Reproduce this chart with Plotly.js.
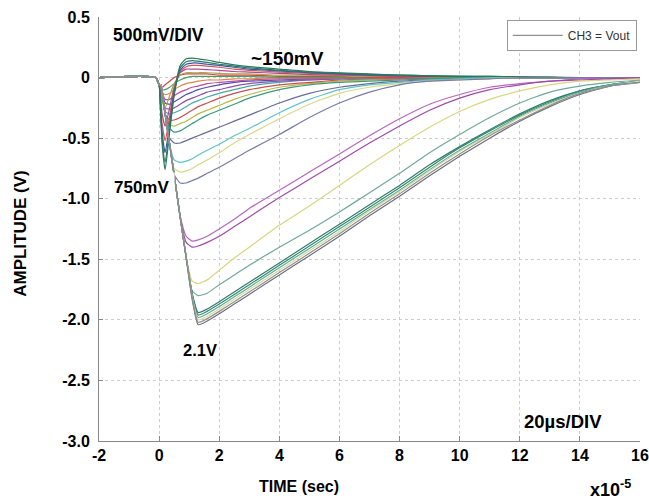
<!DOCTYPE html>
<html>
<head>
<meta charset="utf-8">
<script src="https://cdn.plot.ly/plotly-3.0.1.min.js"></script>
<style>html,body{margin:0;padding:0;background:#fff;}#chart{width:649px;height:499px;}</style>
</head>
<body>
<div id="chart"></div>
<script>
// time axis, in units of 1e-5 s
const timeE5 = [-2, -0.12, 0, 0.05, 0.1, 0.2, 0.35, 0.5, 0.7, 0.9, 1.1, 1.3, 1.6, 2, 2.5, 3, 4, 5, 6, 7, 8, 9, 10, 11, 12, 13, 14, 15, 16];

// large-amplitude bundle (~2.1 V)
const bundle1 = [0,0,-0.06,-0.07,-0.12,-0.3,-0.55,-0.8,-1.15,-1.49,-1.83,-2.04,-2.01,-1.95,-1.87,-1.79,-1.63,-1.47,-1.31,-1.14,-0.98,-0.81,-0.65,-0.50,-0.36,-0.24,-0.14,-0.07,-0.04];
const bundle2 = [0,0,-0.06,-0.07,-0.12,-0.3,-0.55,-0.8,-1.15,-1.48,-1.82,-2.02,-1.99,-1.93,-1.85,-1.77,-1.61,-1.45,-1.29,-1.12,-0.96,-0.79,-0.63,-0.48,-0.35,-0.23,-0.13,-0.07,-0.04];
const bundle3 = [0,0,-0.06,-0.06,-0.12,-0.3,-0.55,-0.8,-1.15,-1.48,-1.81,-2.00,-1.97,-1.91,-1.83,-1.75,-1.59,-1.43,-1.27,-1.10,-0.94,-0.77,-0.61,-0.47,-0.33,-0.22,-0.13,-0.07,-0.03];
const bundle4 = [0,0,-0.06,-0.06,-0.12,-0.3,-0.55,-0.8,-1.15,-1.48,-1.80,-1.98,-1.95,-1.89,-1.81,-1.73,-1.57,-1.41,-1.25,-1.09,-0.93,-0.76,-0.60,-0.46,-0.32,-0.21,-0.12,-0.06,-0.03];
const bundle5 = [0,0,-0.06,-0.06,-0.12,-0.3,-0.55,-0.8,-1.15,-1.48,-1.79,-1.96,-1.93,-1.87,-1.79,-1.71,-1.55,-1.39,-1.23,-1.07,-0.91,-0.74,-0.58,-0.44,-0.31,-0.20,-0.11,-0.06,-0.03];
const bundle6 = [0,0,-0.06,-0.06,-0.12,-0.3,-0.55,-0.8,-1.15,-1.48,-1.78,-1.94,-1.91,-1.85,-1.77,-1.69,-1.53,-1.37,-1.21,-1.05,-0.89,-0.72,-0.57,-0.43,-0.30,-0.19,-0.11,-0.06,-0.03];

// intermediate large curves
const teal180 = [0,0,-0.06,-0.06,-0.12,-0.3,-0.55,-0.8,-1.15,-1.48,-1.76,-1.80,-1.78,-1.71,-1.63,-1.55,-1.40,-1.26,-1.11,-0.95,-0.79,-0.62,-0.47,-0.33,-0.21,-0.12,-0.07,-0.04,-0.02];
const yellow170 = [0,0,-0.06,-0.06,-0.12,-0.3,-0.55,-0.8,-1.15,-1.48,-1.68,-1.70,-1.67,-1.59,-1.49,-1.40,-1.22,-1.06,-0.89,-0.72,-0.56,-0.41,-0.28,-0.18,-0.11,-0.06,-0.03,-0.02,-0.01];
const purple140 = [0,0,-0.06,-0.06,-0.12,-0.3,-0.55,-0.8,-1.15,-1.36,-1.40,-1.39,-1.36,-1.31,-1.23,-1.15,-0.99,-0.84,-0.69,-0.54,-0.40,-0.27,-0.17,-0.10,-0.06,-0.03,-0.02,-0.01,0];
const purple135 = [0,0,-0.06,-0.06,-0.12,-0.3,-0.55,-0.8,-1.14,-1.31,-1.35,-1.34,-1.31,-1.25,-1.17,-1.08,-0.93,-0.78,-0.63,-0.48,-0.34,-0.22,-0.14,-0.08,-0.05,-0.03,-0.01,-0.01,0];

// medium curves
const slate088 = [0,0,-0.06,-0.06,-0.12,-0.3,-0.55,-0.8,-0.87,-0.87,-0.85,-0.83,-0.79,-0.74,-0.67,-0.60,-0.47,-0.33,-0.21,-0.12,-0.06,-0.03,-0.02,-0.01,0,0,0,0,0];
const yellow078 = [0,0,-0.06,-0.06,-0.12,-0.3,-0.55,-0.75,-0.78,-0.77,-0.75,-0.72,-0.68,-0.62,-0.54,-0.47,-0.34,-0.22,-0.13,-0.08,-0.05,-0.03,-0.02,-0.01,0,0,0,0,0];
const cyan070 = [0,0,-0.06,-0.06,-0.12,-0.3,-0.55,-0.68,-0.70,-0.69,-0.67,-0.64,-0.60,-0.55,-0.48,-0.42,-0.29,-0.18,-0.10,-0.06,-0.04,-0.02,-0.01,0,0,0,0,0,0];
const slate054 = [0,0,-0.06,-0.06,-0.12,-0.3,-0.50,-0.54,-0.54,-0.52,-0.50,-0.48,-0.45,-0.41,-0.36,-0.31,-0.21,-0.13,-0.08,-0.05,-0.03,-0.02,-0.01,0,0,0,0,0,0];
const green045 = [0,0,-0.06,-0.06,-0.12,-0.3,-0.42,-0.45,-0.44,-0.41,-0.38,-0.35,-0.31,-0.27,-0.22,-0.17,-0.10,-0.06,-0.04,-0.03,-0.02,-0.01,0,0,0,0,0,0,0];

// small-dip curves
const small1 = [0,0,-0.06,-0.06,-0.12,-0.3,-0.39,-0.40,-0.38,-0.36,-0.33,-0.30,-0.27,-0.23,-0.18,-0.14,-0.08,-0.05,-0.03,-0.02,-0.01,-0.01,0,0,0,0,0,0,0];
const small2 = [0,0,-0.06,-0.06,-0.12,-0.3,-0.35,-0.35,-0.33,-0.30,-0.27,-0.24,-0.21,-0.17,-0.13,-0.10,-0.06,-0.04,-0.02,-0.01,-0.01,0,0,0,0,0,0,0,0];
const small3 = [0,0,-0.06,-0.06,-0.12,-0.28,-0.30,-0.29,-0.27,-0.24,-0.21,-0.19,-0.16,-0.13,-0.10,-0.07,-0.04,-0.02,-0.01,-0.01,0,0,0,0,0,0,0,0,0];
const small4 = [0,0,-0.06,-0.06,-0.12,-0.25,-0.26,-0.25,-0.22,-0.19,-0.17,-0.15,-0.12,-0.10,-0.07,-0.05,-0.03,-0.02,-0.01,0,0,0,0,0,0,0,0,0,0];
const small5 = [0,0,-0.06,-0.06,-0.12,-0.21,-0.22,-0.20,-0.17,-0.14,-0.12,-0.10,-0.08,-0.06,-0.04,-0.03,-0.02,-0.01,0,0,0,0,0,0,0,0,0,0,0];
const small6 = [0,0,-0.06,-0.06,-0.12,-0.18,-0.18,-0.15,-0.12,-0.10,-0.08,-0.07,-0.05,-0.04,-0.03,-0.02,-0.01,-0.01,0,0,0,0,0,0,0,0,0,0,0];
const small7 = [0,0,-0.06,-0.06,-0.12,-0.14,-0.13,-0.10,-0.07,-0.05,-0.04,-0.03,-0.02,-0.02,-0.01,-0.01,0,0,0,0,0,0,0,0,0,0,0,0,0];
const small8 = [0,0,-0.06,-0.06,-0.10,-0.10,-0.08,-0.05,-0.02,0,0.01,0.01,0.01,0.01,0.01,0.01,0,0,0,0,0,0,0,0,0,0,0,0,0];
const small9 = [0,0,-0.06,-0.06,-0.08,-0.06,-0.03,0,0.02,0.03,0.03,0.03,0.03,0.02,0.02,0.02,0.01,0.01,0.01,0,0,0,0,0,0,0,0,0,0];

// overshoot curves (spike to ~750 mV, overshoot up to ~150 mV)
const over1 = [0,0,-0.06,-0.10,-0.20,-0.25,-0.15,-0.05,0.02,0.04,0.04,0.04,0.04,0.035,0.03,0.03,0.02,0.02,0.015,0.01,0.01,0.005,0,0,0,0,0,0,0];
const over2 = [0,0,-0.06,-0.15,-0.30,-0.40,-0.25,-0.08,0.04,0.07,0.07,0.07,0.065,0.06,0.05,0.045,0.035,0.025,0.02,0.015,0.01,0.01,0.005,0,0,0,0,0,0];
const over3 = [0,0,-0.06,-0.20,-0.38,-0.52,-0.32,-0.10,0.05,0.09,0.10,0.10,0.095,0.085,0.07,0.06,0.045,0.035,0.025,0.02,0.015,0.01,0.005,0,0,0,0,0,0];
const over4 = [0,0,-0.06,-0.25,-0.45,-0.62,-0.38,-0.12,0.06,0.11,0.12,0.12,0.11,0.10,0.085,0.07,0.055,0.04,0.03,0.02,0.015,0.01,0.01,0.005,0,0,0,0,0];
const over5 = [0,0,-0.06,-0.28,-0.50,-0.70,-0.42,-0.13,0.08,0.13,0.14,0.135,0.125,0.11,0.095,0.08,0.06,0.045,0.035,0.025,0.02,0.015,0.01,0.01,0.005,0,0,0,0];
const over6 = [0,0,-0.06,-0.30,-0.55,-0.76,-0.45,-0.15,0.10,0.155,0.16,0.155,0.145,0.125,0.105,0.09,0.07,0.05,0.04,0.03,0.02,0.015,0.01,0.01,0.005,0.005,0,0,0];

// tick labels
const xTickVals = [-2, 0, 2, 4, 6, 8, 10, 12, 14, 16];
const yTickVals = [0.5, 0, -0.5, -1.0, -1.5, -2.0, -2.5, -3.0];
const yTickText = ['0.5', '0', '-0.5', '-1.0', '-1.5', '-2.0', '-2.5', '-3.0'];

const series = [
  [small1, '#b8b848'], [small2, '#c85050'], [small3, '#48a8a8'], [small4, '#9050a8'],
  [small5, '#5050b0'], [small6, '#c048a0'], [small7, '#d88848'], [small8, '#48a068'], [small9, '#d04848'],
  [over1, '#a8a848'], [over2, '#b04898'], [over3, '#d05858'], [over4, '#3858a8'], [over5, '#2a7868'], [over6, '#2a7a5a'],
  [green045, '#3a9a7a'], [slate054, '#6a6a9a'], [cyan070, '#60c4c4'], [yellow078, '#d8d888'], [slate088, '#7a7aa8'],
  [purple135, '#b468bc'], [purple140, '#a04aa8'], [yellow170, '#d8d680'], [teal180, '#70a89c'],
  [bundle6, '#3a7a6a'], [bundle5, '#2e8b70'], [bundle4, '#60aaa0'], [bundle3, '#d8d898'], [bundle1, '#6e6e80'], [bundle2, '#909090']
];

const traces = series.map(([vals, col], i) => ({
  x: timeE5, y: vals, type: 'scatter', mode: 'lines',
  line: {color: col, width: 1.2, shape: 'spline', smoothing: 0.5},
  name: 'CH3 = Vout',
  showlegend: i === series.length - 1, hoverinfo: 'skip'
}));

const F = 'Liberation Sans, Arial, sans-serif';
const ann = (text, x, y, size, opts) => Object.assign({
  text: text, xref: 'paper', yref: 'paper', x: x, y: y, showarrow: false,
  font: {family: F, size: size, color: '#000', weight: 'bold'}, xanchor: 'left', yanchor: 'middle'
}, opts || {});

const layout = {
  width: 649, height: 499,
  margin: {l: 99, r: 9, t: 17, b: 58},
  paper_bgcolor: '#fff', plot_bgcolor: '#fff',
  font: {family: F, color: '#000'},
  xaxis: {
    range: [-2, 16], tickvals: xTickVals, ticktext: xTickVals.map(String),
    showgrid: true, gridcolor: '#cccccc', griddash: 'dot', gridwidth: 1,
    zeroline: false, showline: true, linecolor: '#888', linewidth: 1,
    ticks: 'inside', ticklen: 5, tickcolor: '#888',
    tickfont: {family: F, size: 16, color: '#000', weight: 'bold'}
  },
  yaxis: {
    range: [-3.0, 0.5], tickvals: yTickVals, ticktext: yTickText,
    showgrid: true, gridcolor: '#cccccc', griddash: 'dot', gridwidth: 1,
    zeroline: false, showline: true, linecolor: '#888', linewidth: 1,
    ticks: 'inside', ticklen: 4, tickcolor: '#888', ticklabelstandoff: 5,
    tickfont: {family: F, size: 16, color: '#000', weight: 'bold'}
  },
  legend: {
    x: 0.994, y: 0.993, xanchor: 'right', yanchor: 'top',
    bgcolor: '#fff', bordercolor: '#999', borderwidth: 1,
    itemwidth: 50, tracegroupgap: 0,
    font: {family: F, size: 12, color: '#333'}
  },
  annotations: [
    ann('500mV/DIV', 0.022, 0.958, 17.5),
    ann('~150mV', 0.278, 0.903, 19),
    ann('750mV', 0.0166, 0.599, 17, {bgcolor: '#fff', borderpad: 5}),
    ann('2.1V', 0.152, 0.215, 16.5),
    ann('20µs/DIV', (563 - 99) / 541, 0.047, 18.5, {xanchor: 'center'}),
    ann('TIME (sec)', (299 - 99) / 541, -0.108, 16, {xanchor: 'center'}),
    ann('x10<sup>-5</sup>', 0.903, -0.112, 18),
    ann('AMPLITUDE (V)', -0.145, 0.49, 17, {textangle: -90, xanchor: 'center'})
  ]
};

Plotly.newPlot('chart', traces, layout, {displayModeBar: false, staticPlot: true});
</script>
</body>
</html>
